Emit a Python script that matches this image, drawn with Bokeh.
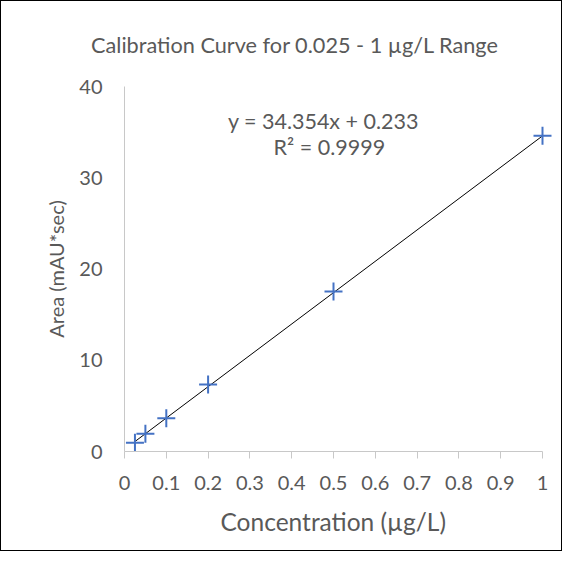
from bokeh.plotting import figure
from bokeh.models import Range1d, FixedTicker, Label, Title
from bokeh.embed import file_html
from bokeh.resources import INLINE

# ---- data ----
conc = [0.025, 0.05, 0.1, 0.2, 0.5, 1.0]
area = [0.95, 1.94, 3.65, 7.34, 17.53, 34.6]
slope = 34.354
intercept = 0.233
x_ticks = [0, 0.1, 0.2, 0.3, 0.4, 0.5, 0.6, 0.7, 0.8, 0.9, 1]
x_tick_labels = ["0", "0.1", "0.2", "0.3", "0.4", "0.5", "0.6", "0.7", "0.8", "0.9", "1"]
y_ticks = [0, 10, 20, 30, 40]
title_text = "Calibration Curve for 0.025 - 1 µg/L Range"
eq_text = "y = 34.354x + 0.233"
r2_text = "R² = 0.9999"
x_title = "Concentration (µg/L)"
y_title = "Area (mAU*sec)"

FONT = "Lato"
GRAY = "#595959"
AXIS = "#C8C8C8"
BLUE = "#4472C4"

FRAME_W = 430
PX_PER_X = 418
p = figure(width=562, height=551, output_backend="svg", toolbar_location=None,
           x_range=Range1d(0, FRAME_W / PX_PER_X), y_range=Range1d(0, 40),
           min_border_left=123, min_border_right=562 - 123 - FRAME_W,
           min_border_top=85, min_border_bottom=101)
p.styles = {"border": "1px solid black"}
p.outline_line_color = None
p.xgrid.visible = False
p.ygrid.visible = False

# title
p.title.text = title_text
p.title.align = "left"
p.title.offset = -33.5
p.title.vertical_align = "top"
p.title.text_font = FONT
p.title.text_font_size = "21.7px"
p.title.text_font_style = "normal"
p.title.text_color = GRAY
p.title.standoff = 54

# trendline
tx = [conc[0], conc[-1]]
ty = [slope * v + intercept for v in tx]
p.line(tx, ty, line_color="black", line_width=1)

# points
p.scatter(conc, area, marker="cross", size=18, line_color=BLUE, line_width=2)

# x axis
xa = p.xaxis[0]
xa.ticker = FixedTicker(ticks=x_ticks)
xa.major_label_overrides = {t: l for t, l in zip(x_ticks, x_tick_labels)}
xa.bounds = (0, 1)
xa.axis_line_color = AXIS
xa.major_tick_line_color = AXIS
xa.major_tick_out = 7
xa.major_tick_in = 0
xa.minor_tick_line_color = None
xa.major_label_text_font = FONT
xa.major_label_text_font_size = "20px"
xa.major_label_text_color = GRAY
xa.major_label_standoff = 17

p.add_layout(Title(text=x_title, align="left", offset=96, text_font=FONT,
                   text_font_size="24.5px", text_font_style="normal",
                   text_color=GRAY, standoff=25), "below")

# y axis
ya = p.yaxis[0]
ya.ticker = FixedTicker(ticks=y_ticks)
ya.bounds = (0, 40)
ya.axis_line_color = AXIS
ya.major_tick_line_color = None
ya.major_tick_out = 0
ya.major_tick_in = 0
ya.minor_tick_line_color = None
ya.major_label_text_font = FONT
ya.major_label_text_font_size = "20px"
ya.major_label_text_color = GRAY
ya.major_label_standoff = 22
ya.axis_label = y_title
ya.axis_label_text_font = FONT
ya.axis_label_text_font_size = "20px"
ya.axis_label_text_font_style = "normal"
ya.axis_label_text_color = GRAY
ya.axis_label_standoff = 8

def add_label(x, y, text, size):
    p.add_layout(Label(x=x, y=y, text=text, text_align="center",
                       text_baseline="alphabetic", text_font=FONT,
                       text_font_size=size, text_color=GRAY))

add_label(0.476, 36.17, eq_text, "21.5px")
add_label(0.49, 33.32, r2_text, "21.5px")

open("out.html", "w").write(file_html(p, INLINE))
